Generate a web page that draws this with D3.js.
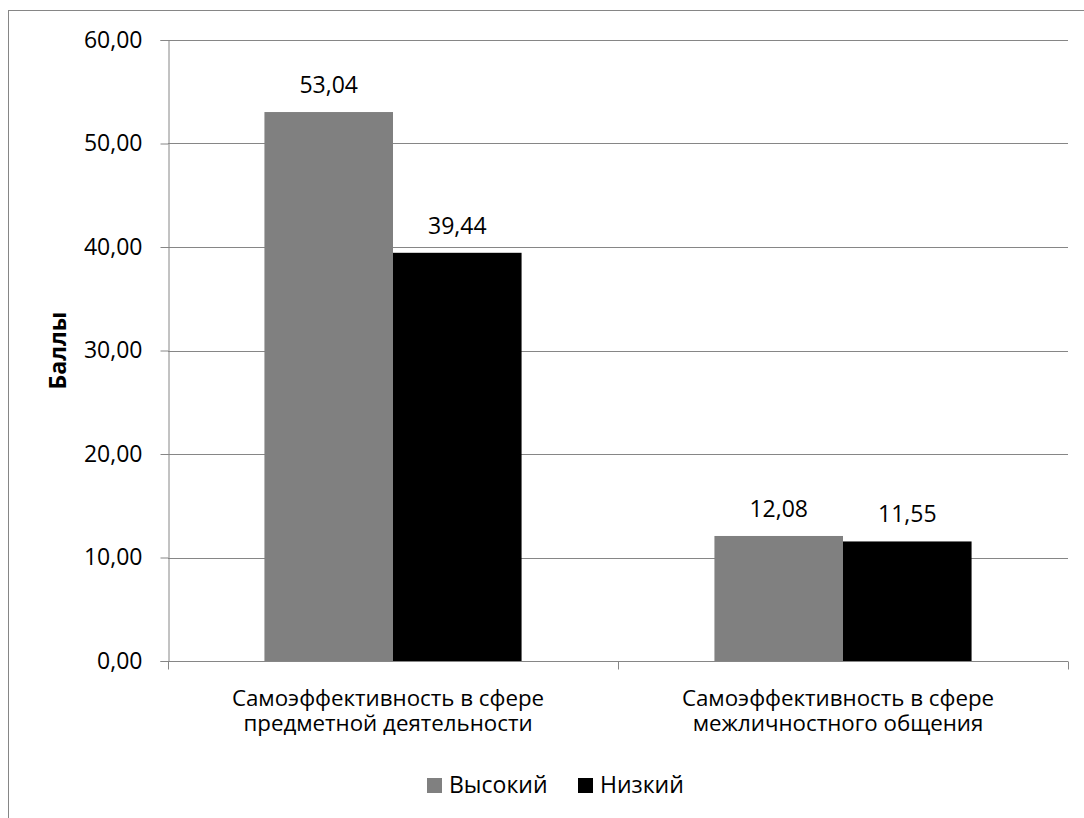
<!DOCTYPE html>
<html>
<head>
<meta charset="utf-8">
<script src="https://cdn.jsdelivr.net/npm/d3@7"></script>
<style>
  body { margin: 0; background: #fff; }
  svg { display: block; font-family: "Open Sans", sans-serif; }
</style>
</head>
<body>
<div id="chart"></div>
<script>
// data
const categories = [
  ["Самоэффективность в сфере", "предметной деятельности"],
  ["Самоэффективность в сфере", "межличностного общения"],
];
const seriesNames = ["Высокий", "Низкий"];
const seriesColors = ["#808080", "#000000"];
const highValues = [53.04, 12.08];
const lowValues = [39.44, 11.55];
const yTicks = [0, 10, 20, 30, 40, 50, 60];

const width = 1084, height = 818;
const margin = { top: 40, left: 168, right: 16, bottom: 157 };
const fontSize = 23;
const catFontSize = 22.3;

const svg = d3.select("#chart").append("svg")
  .attr("width", width)
  .attr("height", height);

// outer chart frame (right/bottom edges fall outside the picture)
svg.append("rect")
  .attr("x", 8.5).attr("y", 10.5)
  .attr("width", 1100).attr("height", 900)
  .attr("fill", "none")
  .attr("stroke", "#868686");

const x0 = d3.scaleBand()
  .domain(d3.range(categories.length))
  .range([margin.left, width - margin.right])
  .paddingInner(0)
  .paddingOuter(0);

// Excel gap width 150% -> bars take 2/3.5 of a category
const x1 = d3.scaleBand()
  .domain(d3.range(seriesNames.length))
  .range([0, x0.bandwidth()])
  .paddingInner(0)
  .paddingOuter(0.75);

const y = d3.scaleLinear()
  .domain([0, 60])
  .range([height - margin.bottom, margin.top]);

const fmt = (v) => v.toFixed(2).replace(".", ",");

// gridlines
svg.append("g")
  .selectAll("line")
  .data(yTicks.filter((d) => d > 0))
  .enter()
  .append("line")
  .attr("x1", margin.left)
  .attr("x2", width - margin.right)
  .attr("y1", (d) => Math.round(y(d)) + 0.5)
  .attr("y2", (d) => Math.round(y(d)) + 0.5)
  .attr("stroke", "#868686")
  .attr("stroke-width", 1);

// y axis
const yAxis = svg.append("g")
  .attr("transform", `translate(${margin.left + 0.5},0)`)
  .call(d3.axisLeft(y).tickValues(yTicks).tickSize(8).tickPadding(18).tickFormat(fmt));
yAxis.select(".domain").attr("stroke", "#868686");
yAxis.selectAll(".tick line").attr("stroke", "#868686");
yAxis.selectAll("text")
  .attr("fill", "#000")
  .style("font-size", fontSize + "px")
  .style("font-family", "'Open Sans', sans-serif");

// bars
const series = [highValues, lowValues];
const groups = svg.append("g")
  .selectAll("g")
  .data(categories.map((c, i) => i))
  .enter()
  .append("g")
  .attr("transform", (i) => `translate(${x0(i)},0)`);

groups.selectAll("rect")
  .data((i) => series.map((s, k) => ({ k, v: s[i] })))
  .enter()
  .append("rect")
  .attr("x", (d) => x1(d.k))
  .attr("width", x1.bandwidth())
  .attr("y", (d) => y(d.v))
  .attr("height", (d) => y(0) - y(d.v))
  .attr("fill", (d) => seriesColors[d.k]);

groups.selectAll("text.val")
  .data((i) => series.map((s, k) => ({ k, v: s[i] })))
  .enter()
  .append("text")
  .attr("class", "val")
  .attr("x", (d) => x1(d.k) + x1.bandwidth() / 2)
  .attr("y", (d) => y(d.v) - 19)
  .attr("text-anchor", "middle")
  .style("font-size", fontSize + "px")
  .text((d) => fmt(d.v));

// x axis
const xAxisY = Math.round(y(0)) + 0.5;
svg.append("line")
  .attr("x1", margin.left)
  .attr("x2", width - margin.right)
  .attr("y1", xAxisY).attr("y2", xAxisY)
  .attr("stroke", "#868686");
svg.append("g")
  .selectAll("line")
  .data(d3.range(categories.length + 1))
  .enter()
  .append("line")
  .attr("x1", (i) => Math.round(margin.left + i * x0.bandwidth()) + 0.5)
  .attr("x2", (i) => Math.round(margin.left + i * x0.bandwidth()) + 0.5)
  .attr("y1", xAxisY).attr("y2", xAxisY + 8)
  .attr("stroke", "#868686");

// category labels
const catLabels = svg.append("g")
  .selectAll("text")
  .data(categories)
  .enter()
  .append("text")
  .attr("text-anchor", "middle")
  .attr("transform", (d, i) => `translate(${x0(i) + x0.bandwidth() / 2 - 5},${xAxisY + 44})`)
  .style("font-size", catFontSize + "px");
catLabels.selectAll("tspan")
  .data((d) => d)
  .enter()
  .append("tspan")
  .attr("x", 0)
  .attr("dy", (d, j) => (j === 0 ? 0 : 25))
  .text((d) => d);

// y axis title
svg.append("text")
  .attr("transform", `translate(66,${(y(0) + y(60)) / 2}) rotate(-90)`)
  .attr("text-anchor", "middle")
  .style("font-size", fontSize + "px")
  .style("font-weight", "bold")
  .text("Баллы");

// legend
const legend = svg.append("g").attr("transform", "translate(427,778)");
const legendX = [0, 151];
const items = legend.selectAll("g")
  .data(seriesNames)
  .enter()
  .append("g")
  .attr("transform", (d, i) => `translate(${legendX[i]},0)`);
items.append("rect")
  .attr("width", 15).attr("height", 15)
  .attr("fill", (d, i) => seriesColors[i]);
items.append("text")
  .attr("x", 22)
  .attr("y", 15)
  .style("font-size", fontSize + "px")
  .text((d) => d);
</script>
</body>
</html>
